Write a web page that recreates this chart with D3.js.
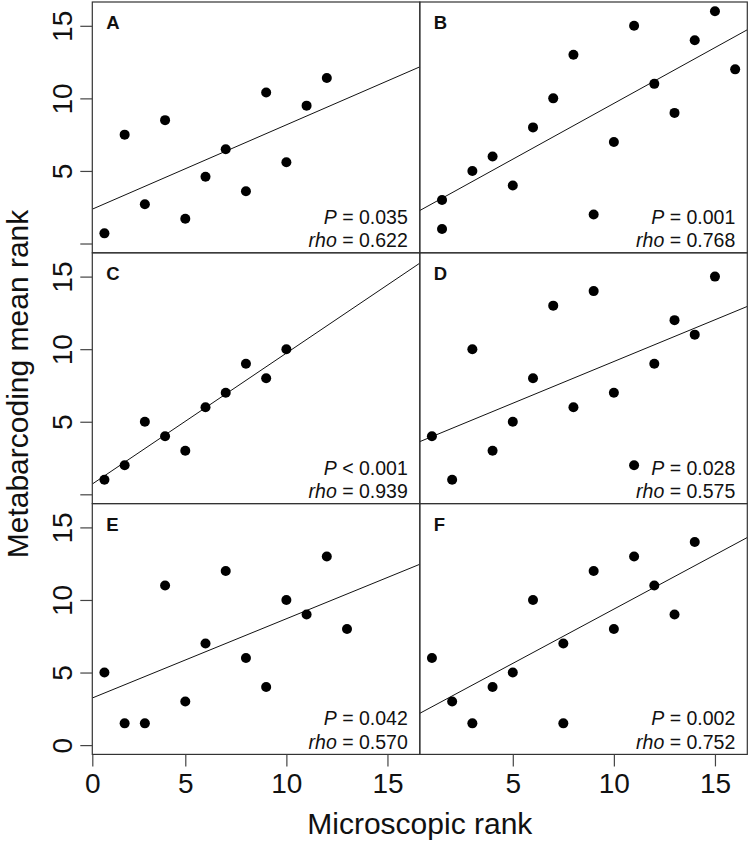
<!DOCTYPE html>
<html>
<head>
<meta charset="utf-8">
<script src="https://cdn.jsdelivr.net/npm/d3@7"></script>
<style>
  body { margin: 0; background: #fff; }
  svg { font-family: "Liberation Sans", Arial, Helvetica, sans-serif; }
</style>
</head>
<body>
<svg width="750" height="843"></svg>
<script>
// панели и значения
const panelLabels = ["A", "B", "C", "D", "E", "F"];

const xA = [1, 2, 3, 4, 5, 6, 7, 8, 9, 10, 11, 12];
const yA = [0.7, 7.5, 2.7, 8.5, 1.7, 4.6, 6.5, 3.6, 10.4, 5.6, 9.5, 11.4];

const xB = [1.5, 1.5, 3, 4, 5, 6, 7, 8, 9, 10, 11, 12, 13, 14, 15, 16];
const yB = [3, 1, 5, 6, 4, 8, 10, 13, 2, 7, 15, 11, 9, 14, 16, 12];

const xC = [1, 2, 3, 4, 5, 6, 7, 8, 9, 10];
const yC = [1, 2, 5, 4, 3, 6, 7, 9, 8, 10];

const xD = [1, 2, 3, 4, 5, 6, 7, 8, 9, 10, 11, 12, 13, 14, 15];
const yD = [4, 1, 10, 3, 5, 8, 13, 6, 14, 7, 2, 9, 12, 11, 15];

const xE = [1, 2, 3, 4, 5, 6, 7, 8, 9, 10, 11, 12, 13];
const yE = [5, 1.5, 1.5, 11, 3, 7, 12, 6, 4, 10, 9, 13, 8];

const xF = [1, 2, 3, 4, 5, 6, 7.5, 7.5, 9, 10, 11, 12, 13, 14];
const yF = [6, 3, 1.5, 4, 5, 10, 7, 1.5, 12, 8, 13, 11, 9, 14];

const pSigns = ["=", "=", "<", "=", "=", "="];
const pValues = ["0.035", "0.001", "0.001", "0.028", "0.042", "0.002"];
const rhoValues = ["0.622", "0.768", "0.939", "0.575", "0.570", "0.752"];

const xTicksLeft = [0, 5, 10, 15];
const xTicksRight = [5, 10, 15];
const yTicks = [0, 5, 10, 15];

const panelX = [xA, xB, xC, xD, xE, xF];
const panelY = [yA, yB, yC, yD, yE, yF];

const svg = d3.select("svg");

// область вывода
const attr_area = {
    left: 92.3,
    top: 2,
    panelW: 327.5,
    panelH: 250.8
};

// шкалы (как в R: xlim c(1,16), ylim c(0,16) с запасом 4%)
const scX = d3.scaleLinear()
    .domain([0.4, 16.6])
    .range([0, attr_area.panelW])
    .clamp(true);
const scY = d3.scaleLinear()
    .domain([-0.64, 16.64])
    .range([attr_area.panelH, 0]);

// линейная регрессия
function fitLine(xs, ys) {
    const mx = d3.mean(xs), my = d3.mean(ys);
    let sxy = 0, sxx = 0;
    xs.forEach((x, i) => { sxy += (x - mx) * (ys[i] - my); sxx += (x - mx) * (x - mx); });
    const b = sxy / sxx;
    return { a: my - b * mx, b: b };
}

panelLabels.forEach((label, i) => {
    const col = i % 2, row = Math.floor(i / 2);
    const g = svg.append("g")
        .attr("transform", `translate(${attr_area.left + col * attr_area.panelW}, ${attr_area.top + row * attr_area.panelH})`);

    g.append("clipPath").attr("id", `clip-${i}`)
        .append("rect")
        .attr("width", attr_area.panelW)
        .attr("height", attr_area.panelH);

    const xs = panelX[i], ys = panelY[i];
    const pts = xs.map((x, k) => ({ x: x, y: ys[k] }));

    // линия регрессии
    const fit = fitLine(xs, ys);
    const dom = scX.domain();
    g.append("line")
        .attr("clip-path", `url(#clip-${i})`)
        .attr("x1", scX(dom[0]))
        .attr("y1", scY(fit.a + fit.b * dom[0]))
        .attr("x2", scX(dom[1]))
        .attr("y2", scY(fit.a + fit.b * dom[1]))
        .style("stroke", "#111")
        .style("stroke-width", 1);

    // точки
    g.selectAll(".dot")
        .data(pts)
        .enter()
        .append("circle")
        .attr("class", "dot")
        .attr("r", 5)
        .attr("cx", d => scX(d.x))
        .attr("cy", d => scY(d.y))
        .style("fill", "#000");

    // рамка
    g.append("rect")
        .attr("width", attr_area.panelW)
        .attr("height", attr_area.panelH)
        .style("fill", "none")
        .style("stroke", "#333")
        .style("stroke-width", 1.2);

    // оси
    if (col == 0) {
        const ax = g.append("g")
            .call(d3.axisLeft(scY)
                .tickValues(yTicks)
                .tickSize(12)
                .tickFormat(d => (row < 2 && d == 0) ? "" : d));
        ax.select(".domain").remove();
        ax.selectAll("line").style("stroke", "#444").style("stroke-width", 1.2);
        ax.selectAll("text")
            .attr("x", 0)
            .attr("y", -20)
            .attr("dy", 0)
            .attr("transform", "rotate(-90)")
            .style("text-anchor", "middle")
            .style("font-size", "28px")
            .style("font-family", "'Liberation Sans', Arial, sans-serif")
            .style("fill", "#111");
    }
    if (row == 2) {
        const ax = g.append("g")
            .attr("transform", `translate(0, ${attr_area.panelH})`)
            .call(d3.axisBottom(scX)
                .tickValues(col == 0 ? xTicksLeft : xTicksRight)
                .tickSize(12));
        ax.select(".domain").remove();
        ax.selectAll("line").style("stroke", "#444").style("stroke-width", 1.2);
        ax.selectAll("text")
            .attr("y", 39)
            .attr("dy", 0)
            .style("font-size", "28px")
            .style("font-family", "'Liberation Sans', Arial, sans-serif")
            .style("fill", "#111");
    }

    // буква панели
    g.append("text")
        .attr("x", 14)
        .attr("y", 27)
        .style("font-size", "18.5px")
        .style("font-weight", "bold")
        .style("fill", "#111")
        .text(label);

    // статистика
    const t1 = g.append("text")
        .attr("x", attr_area.panelW - 12)
        .attr("y", attr_area.panelH - 29)
        .style("text-anchor", "end")
        .style("font-size", "19.5px")
        .style("fill", "#111");
    t1.append("tspan").style("font-style", "italic").text("P");
    t1.append("tspan").text(` ${pSigns[i]} ${pValues[i]}`);

    const t2 = g.append("text")
        .attr("x", attr_area.panelW - 12)
        .attr("y", attr_area.panelH - 5.6)
        .style("text-anchor", "end")
        .style("font-size", "19.5px")
        .style("fill", "#111");
    t2.append("tspan").style("font-style", "italic").text("rho");
    t2.append("tspan").text(` = ${rhoValues[i]}`);
});

// подписи осей
svg.append("text")
    .attr("x", attr_area.left + attr_area.panelW)
    .attr("y", 834)
    .style("text-anchor", "middle")
    .style("font-size", "30px")
    .style("fill", "#111")
    .text("Microscopic rank");

svg.append("text")
    .attr("transform", `translate(28, 384) rotate(-90)`)
    .style("text-anchor", "middle")
    .style("font-size", "30px")
    .style("fill", "#111")
    .text("Metabarcoding mean rank");
</script>
</body>
</html>
